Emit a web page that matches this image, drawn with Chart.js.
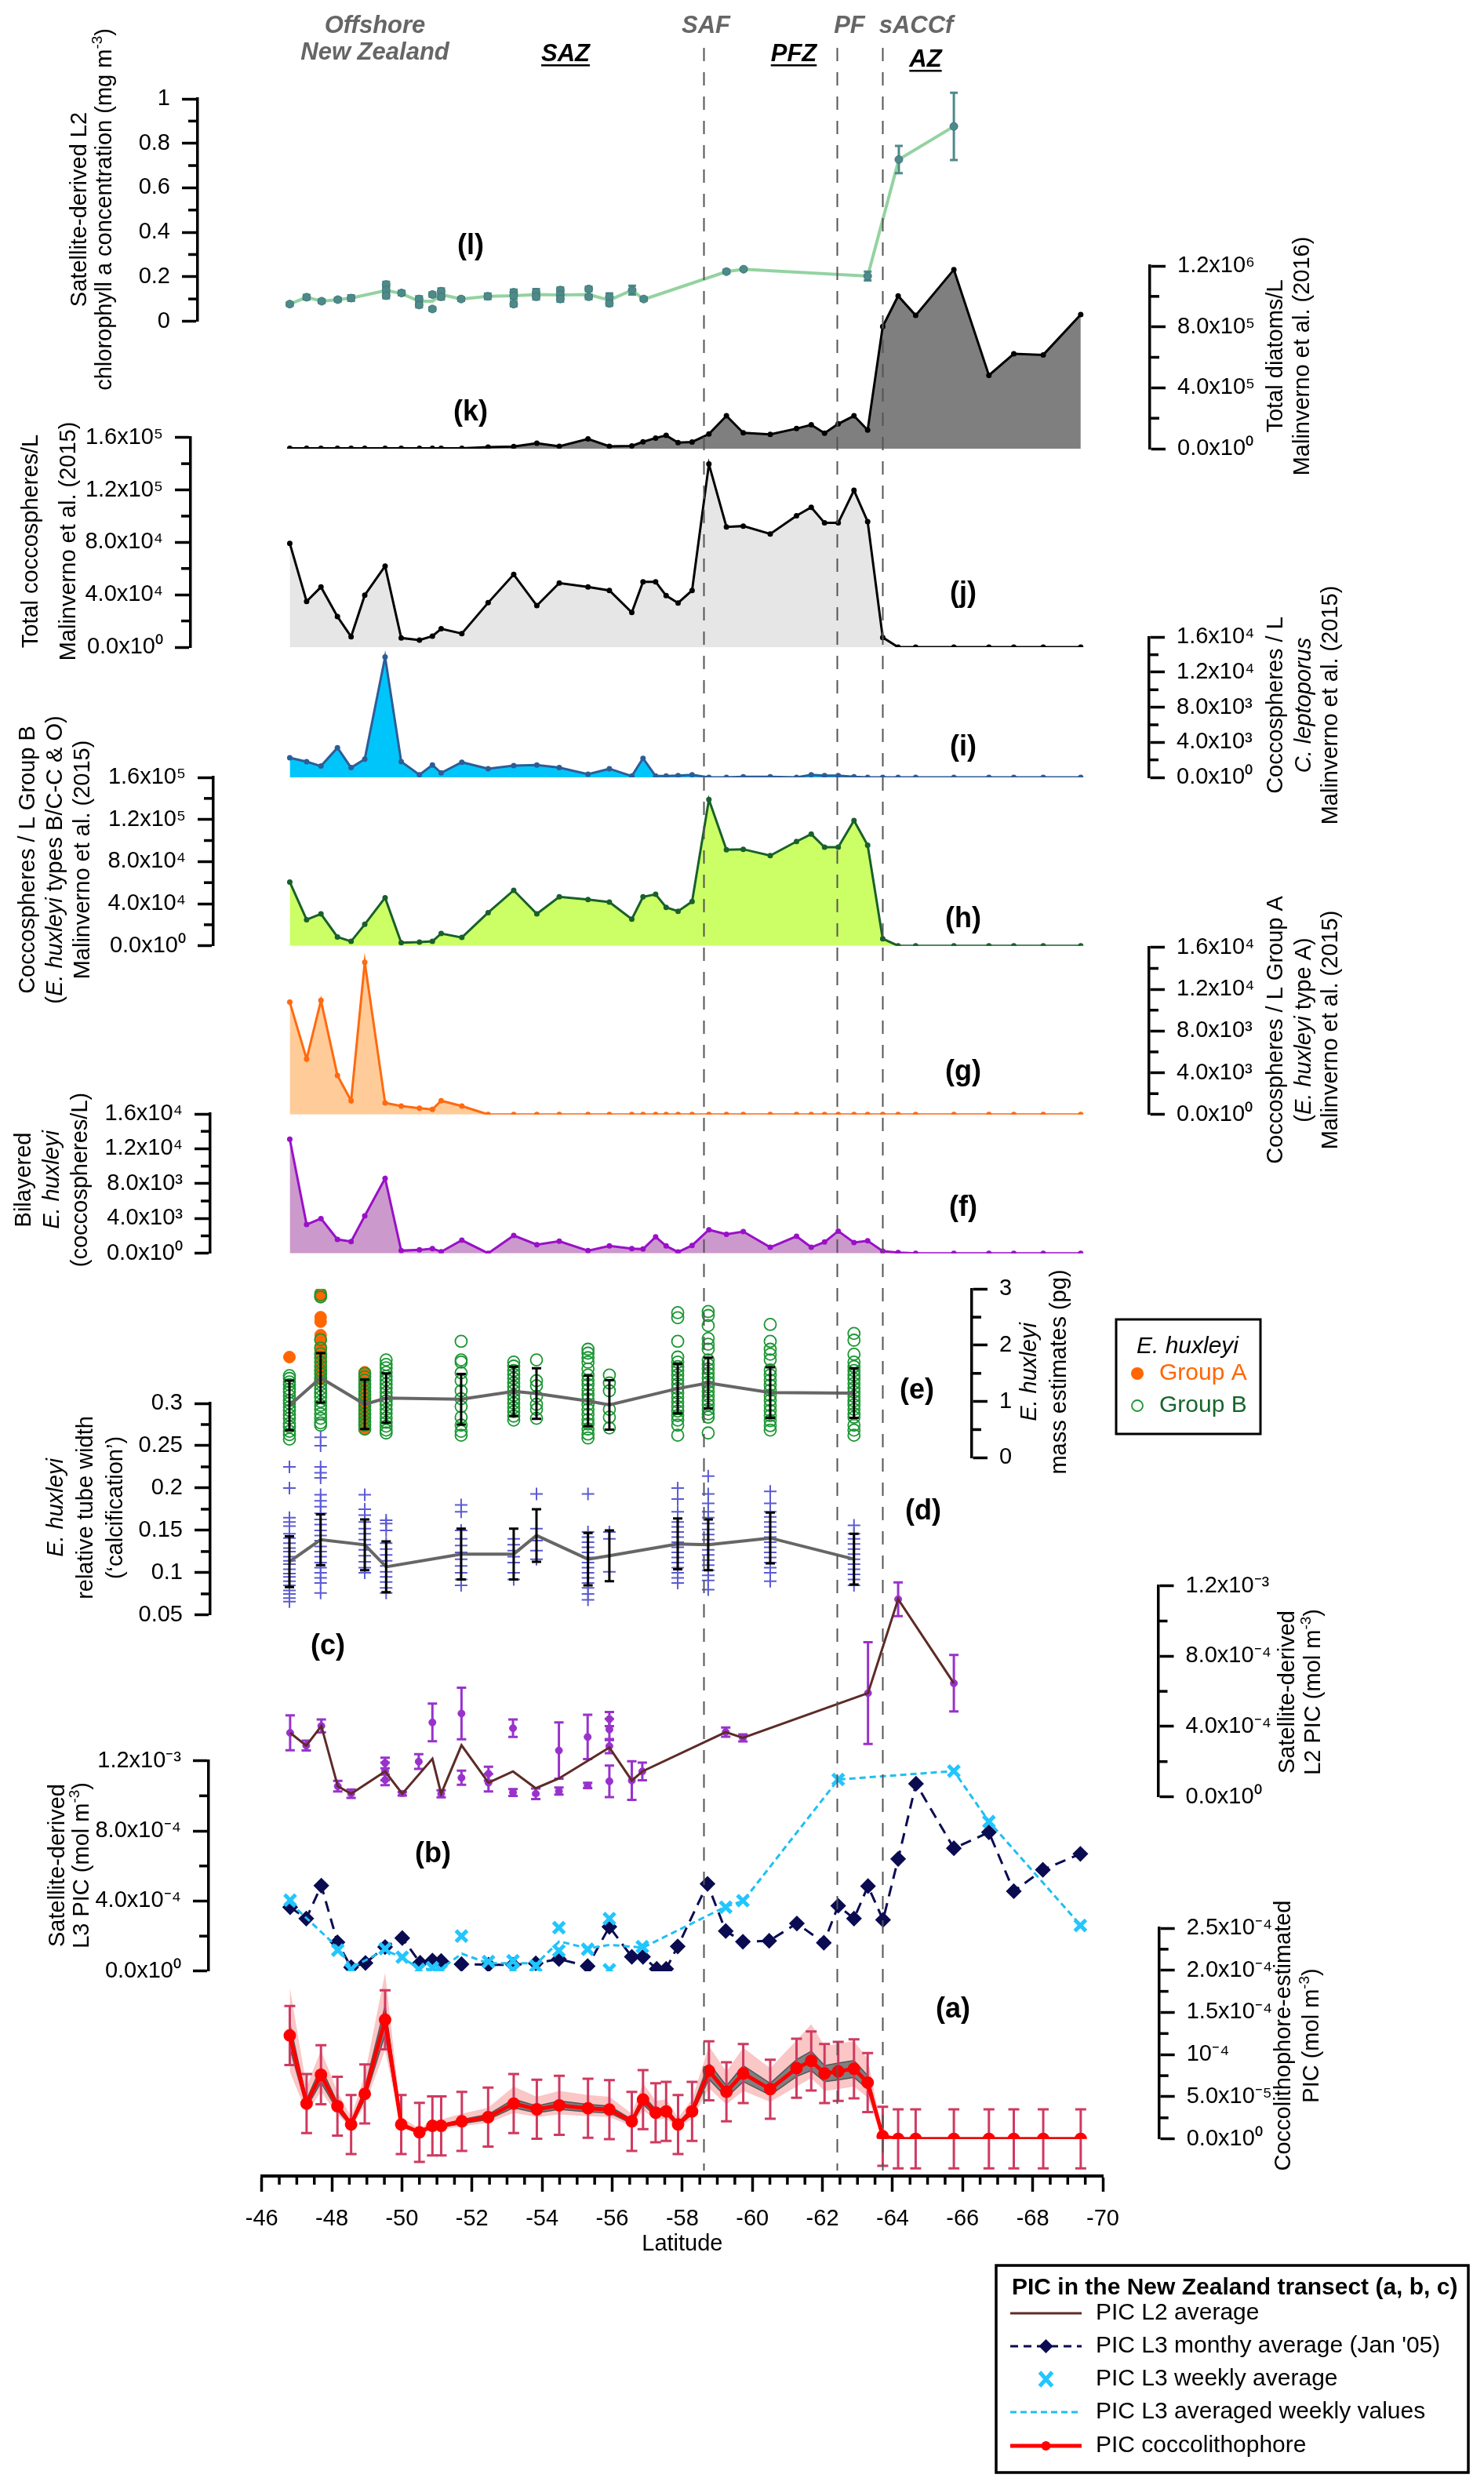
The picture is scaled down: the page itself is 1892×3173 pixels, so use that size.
<!DOCTYPE html>
<html>
<head>
<meta charset="utf-8">
<title>PIC along the New Zealand transect</title>
<script src="https://cdn.jsdelivr.net/npm/chart.js"></script>
<style>
  body { margin: 0; background: #fff; }
  canvas { display: block; }
</style>
</head>
<body>
<canvas id="fig" width="1892" height="3173"></canvas>
<script>
// ---------------- data ----------------

// sampling stations shared by panels (a) and (f)-(k)
const stationLat = [-46.80, -47.28, -47.69, -48.16, -48.55, -48.94, -49.52, -49.98, -50.50, -50.87,
  -51.12, -51.71, -52.46, -53.19, -53.85, -54.49, -55.31, -55.92, -56.56, -56.88,
  -57.24, -57.54, -57.88, -58.28, -58.76, -59.26, -59.74, -60.51, -61.26, -61.68,
  -62.06, -62.45, -62.90, -63.29, -63.72, -64.16, -64.66, -65.75, -66.75, -67.46,
  -68.30, -69.37];

// (k) total diatoms / L
const diatoms = [3000, 3000, 3000, 3000, 3000, 3000, 3000, 3000, 3000, 3000,
  3000, 3000, 10000, 14000, 36000, 16000, 64000, 16000, 18000, 45000,
  70000, 87000, 40000, 44000, 96000, 216000, 104000, 94000, 132000, 157000,
  102000, 163000, 216000, 122000, 802000, 1003000, 875000, 1176000, 482000, 623000,
  616000, 881000];
// (j) total coccospheres / L
const coccoTotal = [79200, 34900, 45900, 23300, 8000, 39700, 61800, 7000, 5400, 8400,
  14000, 10400, 33900, 55500, 31700, 48900, 45900, 43300, 26500, 49900,
  49900, 39300, 33700, 43300, 139700, 91800, 92400, 86400, 100300, 106700,
  94800, 94800, 119700, 95800, 7400, 0, 0, 0, 0, 0, 0, 0];
// (i) C. leptoporus coccospheres / L
const leptoporus = [2240, 1790, 1290, 3380, 1110, 2090, 13740, 1790, 300, 1410,
  510, 1730, 990, 1350, 1410, 1110, 360, 990, 150, 2180,
  150, 150, 210, 300, 0, 0, 60, 60, 0, 300,
  210, 210, 60, 0, 0, 0, 0, 0, 0, 0, 0, 0];
// (h) Group B coccospheres / L
const groupB = [60600, 24800, 30300, 8400, 4200, 20400, 45700, 3000, 3500, 4200,
  11700, 7900, 31500, 52700, 30300, 46500, 44000, 41500, 25300, 46500,
  48900, 36500, 32800, 42000, 138900, 91200, 91700, 85700, 99100, 106100,
  93600, 93600, 119000, 95600, 6700, 0, 0, 0, 0, 0, 0, 0];
// (g) Group A coccospheres / L
const groupA = [10760, 5320, 10930, 3750, 1320, 14590, 1110, 810, 610, 490,
  1320, 810, 0, 0, 0, 0, 0, 0, 0, 0,
  0, 0, 0, 0, 0, 0, 0, 0, 0, 0,
  0, 0, 0, 0, 0, 0, 0, 0, 0, 0, 0, 0];
// (f) bilayered E. huxleyi coccospheres / L
const bilayered = [13090, 3300, 3990, 1590, 1350, 4290, 8590, 300, 390, 540,
  180, 1500, 0, 2040, 990, 1380, 300, 840, 540, 480,
  1890, 840, 150, 900, 2700, 2190, 2490, 690, 1950, 690,
  1290, 2550, 1230, 1440, 240, 90, 0, 0, 0, 0, 0, 0];

// (a) coccolithophore-estimated PIC, in units of 1e-4 mol m-3
const picCocco = [1.227, 0.419, 0.761, 0.388, 0.171, 0.534, 1.413, 0.171, 0.078, 0.155,
  0.155, 0.208, 0.258, 0.419, 0.351, 0.398, 0.363, 0.348, 0.208, 0.466,
  0.311, 0.326, 0.171, 0.326, 0.807, 0.559, 0.776, 0.590, 0.839, 0.925,
  0.776, 0.801, 0.832, 0.668, 0.031, 0, 0, 0, 0, 0, 0, 0];
const picBandHi = [1.80, 0.62, 1.05, 0.56, 0.26, 0.76, 1.97, 0.26, 0.12, 0.22,
  0.23, 0.30, 0.37, 0.62, 0.50, 0.57, 0.52, 0.50, 0.30, 0.66,
  0.45, 0.47, 0.25, 0.47, 1.10, 0.80, 1.08, 0.84, 1.17, 1.36,
  1.10, 1.13, 1.16, 0.95, 0.05, 0, 0, 0, 0, 0, 0, 0];
const picBandLo = [0.80, 0.31, 0.56, 0.29, 0.13, 0.40, 1.05, 0.13, 0.06, 0.11,
  0.11, 0.15, 0.19, 0.31, 0.26, 0.29, 0.27, 0.26, 0.15, 0.34,
  0.23, 0.24, 0.13, 0.24, 0.60, 0.41, 0.57, 0.44, 0.62, 0.72,
  0.57, 0.59, 0.62, 0.49, 0.02, 0, 0, 0, 0, 0, 0, 0];
const picCoreHi = [1.37, 0.47, 0.85, 0.43, 0.19, 0.60, 1.58, 0.19, 0.09, 0.17,
  0.17, 0.23, 0.29, 0.47, 0.39, 0.45, 0.41, 0.39, 0.23, 0.52,
  0.35, 0.37, 0.19, 0.37, 0.90, 0.63, 0.87, 0.66, 0.94, 1.04,
  0.87, 0.90, 0.93, 0.75, 0.035, 0, 0, 0, 0, 0, 0, 0];
const picCoreLo = [1.08, 0.37, 0.67, 0.34, 0.15, 0.47, 1.24, 0.15, 0.07, 0.14,
  0.14, 0.18, 0.23, 0.37, 0.31, 0.35, 0.32, 0.31, 0.18, 0.41,
  0.27, 0.29, 0.15, 0.29, 0.71, 0.49, 0.68, 0.52, 0.74, 0.81,
  0.68, 0.70, 0.73, 0.59, 0.027, 0, 0, 0, 0, 0, 0, 0];
const picCoccoErr = 0.35;

// (l) satellite chlorophyll a (mg m-3): mean line and individual values
const chlLat = [-46.80, -47.28, -47.71, -48.17, -48.55, -49.55, -49.99, -50.49, -50.87, -51.12,
  -51.69, -52.45, -53.19, -53.83, -54.52, -55.33, -55.92, -56.57, -56.90, -59.26,
  -59.75, -63.29, -64.18, -65.75];
const chlMean = [0.077, 0.108, 0.090, 0.097, 0.104, 0.138, 0.125, 0.090, 0.090, 0.120,
  0.100, 0.112, 0.115, 0.120, 0.118, 0.120, 0.095, 0.140, 0.098, 0.223,
  0.234, 0.203, 0.727, 0.876];
const chlPtLat = [-46.80, -47.28, -47.71, -48.17, -48.55, -49.55, -49.55, -49.55, -49.99, -50.49,
  -50.49, -50.87, -50.87, -51.12, -51.12, -51.69, -52.45, -53.19, -53.19, -53.19,
  -53.83, -53.83, -54.52, -54.52, -54.52, -55.33, -55.33, -55.92, -55.92, -56.57,
  -56.90, -59.26, -59.75, -63.29, -64.18, -65.75];
const chlPtVal = [0.077, 0.108, 0.090, 0.097, 0.104, 0.165, 0.140, 0.115, 0.127, 0.100,
  0.073, 0.120, 0.055, 0.135, 0.110, 0.100, 0.112, 0.130, 0.115, 0.077,
  0.130, 0.110, 0.140, 0.120, 0.100, 0.145, 0.110, 0.110, 0.080, 0.140,
  0.100, 0.223, 0.234, 0.203, 0.727, 0.876];
const chlPtErr = [0.008, 0.010, 0.008, 0.008, 0.012, 0.012, 0.015, 0.012, 0.010, 0.012,
  0.010, 0.010, 0.008, 0.012, 0.012, 0.008, 0.012, 0.012, 0.015, 0.010,
  0.015, 0.012, 0.012, 0.015, 0.012, 0.010, 0.010, 0.015, 0.010, 0.020,
  0.008, 0.008, 0.006, 0.020, 0.061, 0.151];

// (e) E. huxleyi mass (pg) and (d) relative tube width, per sampled station
const morphoLat = [-46.79, -47.68, -48.94, -49.55, -51.69, -53.19, -53.84, -55.31, -55.92, -57.87,
  -58.74, -60.51, -62.90];
const massGroupA = [
  [1.79],
  [2.93, 2.87, 2.50, 2.42, 2.18, 2.10, 1.98, 1.90, 1.82, 1.70, 1.55, 1.40],
  [1.52, 1.46, 1.40, 1.33, 1.20, 1.10, 1.00, 0.90, 0.80, 0.70, 0.60, 0.52],
  [], [], [], [], [], [], [], [], [], []];
const massGroupB = [
  [1.46, 1.41, 1.35, 1.30, 1.22, 1.17, 1.10, 1.02, 0.97, 0.90, 0.84, 0.76, 0.70, 0.61, 0.55, 0.47, 0.41, 0.33],
  [2.90, 2.86, 2.10, 1.95, 1.85, 1.78, 1.70, 1.62, 1.55, 1.49, 1.42, 1.36, 1.30, 1.22, 1.15, 1.08, 1.00, 0.93, 0.86, 0.78, 0.70, 0.62, 0.58],
  [1.50, 1.44, 1.38, 1.31, 1.25, 1.18, 1.12, 1.05, 0.98, 0.92, 0.85, 0.78, 0.71, 0.64, 0.58, 0.51],
  [1.74, 1.66, 1.60, 1.52, 1.45, 1.38, 1.31, 1.24, 1.16, 1.08, 1.01, 0.94, 0.86, 0.79, 0.71, 0.63, 0.56, 0.49, 0.44],
  [2.07, 1.74, 1.70, 1.51, 1.37, 1.19, 1.05, 0.91, 0.72, 0.58, 0.47, 0.40],
  [1.70, 1.63, 1.55, 1.48, 1.41, 1.33, 1.26, 1.19, 1.11, 1.04, 0.97, 0.89, 0.82, 0.74, 0.67],
  [1.74, 1.37, 1.28, 1.09, 0.95, 0.86, 0.70],
  [1.93, 1.86, 1.78, 1.70, 1.58, 1.47, 1.38, 1.30, 1.21, 1.12, 1.04, 0.95, 0.86, 0.77, 0.68, 0.60, 0.51, 0.42, 0.35],
  [1.47, 1.33, 1.19, 0.86, 0.72, 0.53],
  [2.58, 2.49, 2.07, 1.79, 1.70, 1.62, 1.55, 1.47, 1.39, 1.31, 1.23, 1.15, 1.07, 0.99, 0.91, 0.83, 0.75, 0.67, 0.58, 0.40],
  [2.60, 2.53, 2.35, 2.12, 2.02, 1.93, 1.74, 1.66, 1.58, 1.50, 1.42, 1.34, 1.26, 1.18, 1.10, 1.02, 0.94, 0.86, 0.78, 0.72, 0.44],
  [2.37, 2.07, 1.93, 1.84, 1.74, 1.56, 1.47, 1.38, 1.29, 1.20, 1.11, 1.02, 0.93, 0.84, 0.75, 0.66, 0.57, 0.49],
  [2.21, 2.09, 1.84, 1.70, 1.62, 1.55, 1.47, 1.40, 1.32, 1.24, 1.17, 1.09, 1.01, 0.94, 0.86, 0.78, 0.72, 0.58, 0.49, 0.40]];
const massMean = [0.93, 1.42, 0.95, 1.06, 1.04, 1.18, 1.14, 1.01, 0.94, 1.23, 1.33, 1.16, 1.15];
const massErr = [0.44, 0.44, 0.44, 0.44, 0.45, 0.44, 0.45, 0.45, 0.44, 0.44, 0.45, 0.45, 0.44];
const tubeWidth = [
  [0.225, 0.200, 0.165, 0.160, 0.155, 0.146, 0.141, 0.135, 0.129, 0.125, 0.119, 0.114, 0.110, 0.104, 0.099, 0.095, 0.090, 0.085, 0.079, 0.075, 0.070, 0.066],
  [0.260, 0.250, 0.225, 0.218, 0.212, 0.192, 0.185, 0.178, 0.170, 0.163, 0.157, 0.150, 0.144, 0.138, 0.131, 0.125, 0.119, 0.112, 0.106, 0.100, 0.094, 0.088, 0.076],
  [0.192, 0.175, 0.168, 0.160, 0.152, 0.146, 0.139, 0.133, 0.127, 0.120, 0.113, 0.106, 0.100],
  [0.162, 0.158, 0.150, 0.135, 0.128, 0.121, 0.114, 0.108, 0.101, 0.095, 0.089, 0.082, 0.076],
  [0.180, 0.172, 0.150, 0.140, 0.132, 0.124, 0.116, 0.108, 0.100, 0.092, 0.085],
  [0.140, 0.133, 0.126, 0.119, 0.112, 0.100, 0.092],
  [0.193, 0.152, 0.138, 0.126, 0.116],
  [0.193, 0.148, 0.142, 0.136, 0.130, 0.124, 0.118, 0.112, 0.106, 0.100, 0.094, 0.088, 0.082, 0.075, 0.068],
  [0.148, 0.140, 0.101],
  [0.200, 0.187, 0.172, 0.160, 0.154, 0.148, 0.142, 0.136, 0.130, 0.124, 0.118, 0.112, 0.106, 0.100, 0.094, 0.088],
  [0.214, 0.193, 0.182, 0.172, 0.165, 0.158, 0.151, 0.145, 0.139, 0.133, 0.127, 0.121, 0.115, 0.109, 0.103, 0.097, 0.091, 0.080],
  [0.196, 0.182, 0.172, 0.166, 0.160, 0.154, 0.148, 0.142, 0.136, 0.130, 0.124, 0.118, 0.112, 0.106, 0.100, 0.090],
  [0.156, 0.146, 0.140, 0.134, 0.128, 0.122, 0.116, 0.110, 0.104, 0.098, 0.092, 0.085]];
const tubeMean = [0.113, 0.139, 0.133, 0.107, 0.122, 0.122, 0.144, 0.116, 0.120, 0.134, 0.133, 0.141, 0.116];
const tubeErr = [0.030, 0.030, 0.030, 0.030, 0.030, 0.030, 0.031, 0.031, 0.030, 0.030, 0.030, 0.030, 0.030];

// (c) satellite L2 PIC, units of 1e-3 mol m-3
const l2Lat = [-46.81, -47.27, -47.70, -48.17, -48.55, -49.52, -50.01, -50.87, -51.12, -51.70,
  -52.47, -53.17, -53.82, -54.48, -55.30, -55.92, -56.56, -56.86, -59.24, -59.73,
  -63.30, -64.16, -65.75];
const l2Mean = [0.364, 0.291, 0.403, 0.060, 0.017, 0.144, 0.017, 0.216, 0.017, 0.293,
  0.080, 0.144, 0.048, 0.104, 0.204, 0.280, 0.092, 0.144, 0.368, 0.335,
  0.590, 1.124, 0.646];
const l2PtLat = [-46.81, -47.27, -47.70, -48.17, -48.55, -49.52, -49.52, -49.52, -50.01, -50.48,
  -50.87, -51.12, -51.70, -51.70, -52.47, -52.47, -53.17, -53.17, -53.82, -54.48,
  -54.48, -55.30, -55.30, -55.92, -55.92, -55.92, -55.92, -56.56, -56.86, -59.24,
  -59.73, -63.30, -64.16, -65.75];
const l2PtVal = [0.364, 0.291, 0.403, 0.060, 0.017, 0.192, 0.144, 0.096, 0.017, 0.200,
  0.423, 0.017, 0.474, 0.108, 0.131, 0.080, 0.390, 0.024, 0.017, 0.263,
  0.032, 0.340, 0.064, 0.442, 0.383, 0.288, 0.088, 0.092, 0.144, 0.368,
  0.335, 0.590, 1.124, 0.646];
const l2PtErr = [0.099, 0.028, 0.037, 0.030, 0.024, 0.030, 0.050, 0.030, 0.010, 0.042,
  0.107, 0.020, 0.147, 0.040, 0.040, 0.050, 0.050, 0.020, 0.030, 0.160,
  0.020, 0.126, 0.015, 0.040, 0.060, 0.040, 0.090, 0.110, 0.050, 0.026,
  0.020, 0.290, 0.096, 0.161];

// (b) satellite L3 PIC, units of 1e-4 mol m-3
const l3MonthLat = [-46.81, -47.27, -47.70, -48.16, -48.55, -48.96, -49.52, -50.01, -50.52, -50.87,
  -51.12, -51.70, -52.47, -53.17, -53.82, -54.48, -55.30, -55.92, -56.56, -56.88,
  -57.27, -57.54, -57.87, -58.72, -59.24, -59.73, -60.48, -61.27, -62.04, -62.45,
  -62.90, -63.30, -63.73, -64.16, -64.67, -65.75, -66.75, -67.46, -68.29, -69.36];
const l3Month = [3.65, 3.00, 4.88, 1.65, 0.22, 0.47, 1.38, 1.89, 0.48, 0.61,
  0.58, 0.40, 0.37, 0.37, 0.45, 0.69, 0.29, 2.53, 0.82, 0.82,
  0.13, 0.13, 1.41, 4.98, 2.29, 1.68, 1.73, 2.72, 1.62, 3.73,
  3.00, 4.85, 2.93, 6.40, 10.69, 7.01, 7.92, 4.56, 5.78, 6.69];
const l3WeekLat = [-46.81, -48.17, -48.55, -49.52, -50.01, -50.48, -50.87, -51.12, -51.70, -52.47,
  -53.17, -53.17, -53.82, -54.48, -54.48, -55.30, -55.92, -55.92, -56.86, -59.24,
  -59.73, -62.45, -65.75, -66.75, -69.36];
const l3Week = [4.05, 1.20, 0.10, 1.28, 0.80, 0.10, 0.20, 0.05, 2.00, 0.55,
  0.60, 0.08, 0.30, 2.48, 1.17, 1.25, 3.00, 0.08, 1.40, 3.65,
  4.02, 10.93, 11.41, 8.53, 2.61];
const l3AvgLat = [-46.81, -48.17, -48.55, -49.52, -49.98, -50.50, -50.87, -51.12, -51.71, -52.46,
  -53.19, -53.85, -54.49, -55.31, -55.92, -56.88, -59.26, -59.74, -62.45, -65.75,
  -66.75, -69.37];
const l3Avg = [3.90, 1.35, 0.20, 1.20, 0.80, 0.15, 0.10, 0.15, 1.00, 0.45,
  0.45, 0.45, 1.70, 1.30, 1.50, 1.35, 3.70, 4.00, 10.93, 11.41,
  8.53, 2.61];

// fronts (dashed lines)
const frontLat = [-58.60, -62.42, -63.70];

// ticks and tick labels
const latTicks = [-70, -68, -66, -64, -62, -60, -58, -56, -54, -52, -50, -48, -46];
const chlTicks = [0, 0.2, 0.4, 0.6, 0.8, 1];
const chlLabels = ['0', '0.2', '0.4', '0.6', '0.8', '1'];
const diatTicks = [0, 4e5, 8e5, 1.2e6];
const diatLabels = ['0.0x10⁰', '4.0x10⁵', '8.0x10⁵', '1.2x10⁶'];
const cocco5Ticks = [0, 4e4, 8e4, 1.2e5, 1.6e5];
const cocco5Labels = ['0.0x10⁰', '4.0x10⁴', '8.0x10⁴', '1.2x10⁵', '1.6x10⁵'];
const cocco4Ticks = [0, 4e3, 8e3, 1.2e4, 1.6e4];
const cocco4Labels = ['0.0x10⁰', '4.0x10³', '8.0x10³', '1.2x10⁴', '1.6x10⁴'];
const massTicks = [0, 1, 2, 3];
const massLabels = ['0', '1', '2', '3'];
const tubeTicks = [0.05, 0.1, 0.15, 0.2, 0.25, 0.3];
const tubeLabels = ['0.05', '0.1', '0.15', '0.2', '0.25', '0.3'];
const l2Ticks = [0, 0.4, 0.8, 1.2];                  // x1e-3
const l3Ticks = [0, 4, 8, 12];                       // x1e-4
const satLabels = ['0.0x10⁰', '4.0x10⁻⁴', '8.0x10⁻⁴', '1.2x10⁻³'];
const cocTicks = [0, 0.5, 1, 1.5, 2, 2.5];           // x1e-4
const cocLabels = ['0.0x10⁰', '5.0x10⁻⁵', '10⁻⁴', '1.5x10⁻⁴', '2.0x10⁻⁴', '2.5x10⁻⁴'];

// ---------------- layout ----------------
const FONT = '"Liberation Sans", Arial, Helvetica, sans-serif';
const PLOT_L = 333.7, PLOT_R = 1406, PLOT_B = 2774, X_AXIS_H = 104;

// one y axis per panel: where it sits and which pixel band it spans
const panels = [
  {id: 'yChl',  side: 'left',  axisX: 252,    top: 126,    bottom: 409.5,  min: 0,    max: 1,     ticks: chlTicks,    labels: chlLabels,    minor: 0.1},
  {id: 'yDiat', side: 'right', axisX: 1466,   top: 339,    bottom: 572,    min: 0,    max: 1.2e6, ticks: diatTicks,   labels: diatLabels,   minor: 2e5},
  {id: 'yTot',  side: 'left',  axisX: 243,    top: 557.7,  bottom: 825,    min: 0,    max: 1.6e5, ticks: cocco5Ticks, labels: cocco5Labels, minor: 2e4},
  {id: 'yLep',  side: 'right', axisX: 1465,   top: 812.3,  bottom: 991,    min: 0,    max: 1.6e4, ticks: cocco4Ticks, labels: cocco4Labels, minor: 2e3},
  {id: 'yGrpB', side: 'left',  axisX: 272,    top: 991,    bottom: 1205.7, min: 0,    max: 1.6e5, ticks: cocco5Ticks, labels: cocco5Labels, minor: 2e4},
  {id: 'yGrpA', side: 'right', axisX: 1465,   top: 1207.9, bottom: 1420.8, min: 0,    max: 1.6e4, ticks: cocco4Ticks, labels: cocco4Labels, minor: 2e3},
  {id: 'yBil',  side: 'left',  axisX: 268,    top: 1420,   bottom: 1597.7, min: 0,    max: 1.6e4, ticks: cocco4Ticks, labels: cocco4Labels, minor: 2e3},
  {id: 'yMass', side: 'right', axisX: 1239,   top: 1643.3, bottom: 1858.3, min: 0,    max: 3,     ticks: massTicks,   labels: massLabels,   minor: 0.5},
  {id: 'yTube', side: 'left',  axisX: 268,    top: 1789,   bottom: 2058.9, min: 0.05, max: 0.3,   ticks: tubeTicks,   labels: tubeLabels,   minor: 0.025},
  {id: 'yL2',   side: 'right', axisX: 1476.5, top: 2021.7, bottom: 2290.5, min: 0,    max: 1.2,   ticks: l2Ticks,     labels: satLabels,    minor: 0.2},
  {id: 'yL3',   side: 'left',  axisX: 266,    top: 2244.6, bottom: 2512.9, min: 0,    max: 12,    ticks: l3Ticks,     labels: satLabels,    minor: 2},
  {id: 'yCoc',  side: 'right', axisX: 1477.7, top: 2458,   bottom: 2726.7, min: 0,    max: 2.5,   ticks: cocTicks,    labels: cocLabels,    minor: 0.25},
];

const axisTitles = [
  {x: 102, y: 267, parts: [['Satellite-derived L2']]},
  {x: 134, y: 267, parts: [['chlorophyll a concentration (mg m'], ['-3', 's'], [')']]},
  {x: 1627, y: 454, parts: [['Total diatoms/L']]},
  {x: 1661, y: 454, parts: [['Malinverno et al. (2016)']]},
  {x: 40, y: 690, parts: [['Total coccospheres/L']]},
  {x: 88, y: 690, parts: [['Malinverno et al. (2015)']]},
  {x: 1627, y: 899, parts: [['Coccospheres / L']]},
  {x: 1663, y: 899, parts: [['C. leptoporus', 'i']]},
  {x: 1697, y: 899, parts: [['Malinverno et al. (2015)']]},
  {x: 36, y: 1096, parts: [['Coccospheres / L Group B']]},
  {x: 71, y: 1096, parts: [['('], ['E. huxleyi', 'i'], [' types B/C-C & O)']]},
  {x: 106, y: 1096, parts: [['Malinverno et al. (2015)']]},
  {x: 1627, y: 1313, parts: [['Coccospheres / L Group A']]},
  {x: 1663, y: 1313, parts: [['('], ['E. huxleyi', 'i'], [' type A)']]},
  {x: 1697, y: 1313, parts: [['Malinverno et al. (2015)']]},
  {x: 31, y: 1504, parts: [['Bilayered']]},
  {x: 67, y: 1504, parts: [['E. huxleyi', 'i']]},
  {x: 103, y: 1504, parts: [['(coccospheres/L)']]},
  {x: 1313, y: 1749, parts: [['E. huxleyi', 'i']]},
  {x: 1351, y: 1749, parts: [['mass estimates (pg)']]},
  {x: 72, y: 1922, parts: [['E. huxleyi', 'i']]},
  {x: 110, y: 1922, parts: [['relative tube width']]},
  {x: 148, y: 1922, parts: [['(‘calcification’)']]},
  {x: 1642, y: 2157, parts: [['Satellite-derived']]},
  {x: 1675, y: 2157, parts: [['L2 PIC (mol m'], ['-3', 's'], [')']]},
  {x: 74, y: 2378, parts: [['Satellite-derived']]},
  {x: 105, y: 2378, parts: [['L3 PIC (mol m'], ['-3', 's'], [')']]},
  {x: 1637, y: 2595, parts: [['Coccolithophore-estimated']]},
  {x: 1673, y: 2595, parts: [['PIC (mol m'], ['-3', 's'], [')']]},
];

const panelLabels = [['(l)', 600, 314], ['(k)', 600, 526], ['(j)', 1228, 757], ['(i)', 1228, 953],
  ['(h)', 1228, 1172], ['(g)', 1228, 1367], ['(f)', 1228, 1540], ['(e)', 1169, 1773],
  ['(d)', 1177, 1927], ['(c)', 418, 2099], ['(b)', 552, 2364], ['(a)', 1215, 2562]];

const zoneLabels = [
  {t: 'Offshore', x: 478, y: 33, grey: true}, {t: 'New Zealand', x: 478, y: 67, grey: true},
  {t: 'SAZ', x: 721, y: 69, under: true}, {t: 'SAF', x: 900, y: 33, grey: true},
  {t: 'PFZ', x: 1012, y: 69, under: true}, {t: 'PF', x: 1083, y: 33, grey: true},
  {t: 'sACCf', x: 1168, y: 33, grey: true}, {t: 'AZ', x: 1180, y: 76, under: true},
];

// ---------------- helpers ----------------
const pts = (xs, ys) => xs.map((x, i) => ({x, y: ys[i]}));
const spread = (xs, lists) => xs.flatMap((x, i) => lists[i].map(y => ({x, y})));

function fontOf(style, size) {
  return (style.includes('i') ? 'italic ' : '') + (style.includes('b') ? 'bold ' : '') + size + 'px ' + FONT;
}

// text made of plain / italic / bold / superscript runs
function drawRich(ctx, parts, x, y, opt) {
  const size = opt.size || 29;
  ctx.save();
  ctx.translate(x, y);
  if (opt.rot) ctx.rotate(opt.rot);
  ctx.textBaseline = 'middle';
  ctx.textAlign = 'left';
  ctx.fillStyle = opt.color || '#000';
  const runs = parts.map(([t, st = '']) => {
    const sup = st.includes('s');
    const sz = sup ? size * 0.65 : size;
    ctx.font = fontOf(st, sz);
    return {t, st, sz, sup, w: ctx.measureText(t).width};
  });
  const total = runs.reduce((a, r) => a + r.w, 0);
  let cx = opt.align === 'left' ? 0 : -total / 2;
  const x0 = cx;
  runs.forEach(r => {
    ctx.font = fontOf(r.st, r.sz);
    ctx.fillText(r.t, cx, r.sup ? -size * 0.33 : 0);
    cx += r.w;
  });
  if (opt.under) {
    ctx.fillRect(x0, size * 0.42, total, 2.5);
  }
  ctx.restore();
}

// ---------------- datasets ----------------
const datasets = [];
function add(ds) { datasets.push(Object.assign({xAxisID: 'x'}, ds)); }
const NONE = 'rgba(0,0,0,0)';

function areaSeries(axis, values, line, fillColor) {
  add({yAxisID: axis, data: pts(stationLat, values), borderColor: line, borderWidth: 3,
    pointRadius: 3.5, pointBackgroundColor: line, pointBorderColor: line, pointBorderWidth: 0,
    fill: 'origin', backgroundColor: fillColor});
}

areaSeries('yDiat', diatoms, '#000000', '#7f7f7f');
add({yAxisID: 'yChl', data: pts(chlLat, chlMean), borderColor: '#93d3a0', borderWidth: 4, pointRadius: 0});
add({yAxisID: 'yChl', data: pts(chlPtLat, chlPtVal), showLine: false, pointRadius: 5,
  pointBackgroundColor: '#4f8a8a', pointBorderColor: '#3f7676', pointBorderWidth: 1,
  err: chlPtErr, errColor: '#4f8a8a', errCap: 5});
areaSeries('yTot', coccoTotal, '#000000', '#e6e6e6');
areaSeries('yLep', leptoporus, '#2d5d97', '#00c5fb');
areaSeries('yGrpB', groupB, '#19602b', '#ccff66');
areaSeries('yGrpA', groupA, '#ff6a10', '#ffcc99');
areaSeries('yBil', bilayered, '#9a10c8', '#cc99cc');

add({yAxisID: 'yMass', data: spread(morphoLat, massGroupA), showLine: false, pointRadius: 7.5,
  pointBackgroundColor: '#ff6600', pointBorderColor: '#ff6600', pointBorderWidth: 1});
add({yAxisID: 'yMass', data: spread(morphoLat, massGroupB), showLine: false, pointRadius: 7.5,
  pointBackgroundColor: NONE, pointBorderColor: '#1a9632', pointBorderWidth: 1.8});
add({yAxisID: 'yMass', data: pts(morphoLat, massMean), borderColor: '#666666', borderWidth: 4, pointRadius: 0,
  err: massErr, errColor: '#000', errOnTop: true, errCap: 6});

add({yAxisID: 'yTube', data: spread(morphoLat, tubeWidth), showLine: false, pointStyle: 'cross',
  pointRadius: 8, pointBorderWidth: 2, pointBorderColor: '#5b5bd3'});
add({yAxisID: 'yTube', data: pts(morphoLat, tubeMean), borderColor: '#666666', borderWidth: 4, pointRadius: 0,
  err: tubeErr, errColor: '#000', errOnTop: true, errCap: 6});

add({yAxisID: 'yL2', data: pts(l2PtLat, l2PtVal), showLine: false, pointRadius: 4.5,
  pointBackgroundColor: '#9932cc', pointBorderColor: '#9932cc',
  err: l2PtErr, errColor: '#9932cc', errCap: 6});
add({yAxisID: 'yL2', data: pts(l2Lat, l2Mean), borderColor: '#5e2b27', borderWidth: 3, pointRadius: 0});

add({yAxisID: 'yL3', data: pts(l3MonthLat, l3Month), borderColor: '#0b0b52', borderWidth: 3, borderDash: [14, 9],
  pointStyle: 'rectRot', pointRadius: 8, pointBackgroundColor: '#0b0b52', pointBorderColor: '#0b0b52'});
add({yAxisID: 'yL3', data: pts(l3AvgLat, l3Avg), borderColor: '#20bff0', borderWidth: 3, borderDash: [8, 5], pointRadius: 0});
add({yAxisID: 'yL3', data: pts(l3WeekLat, l3Week), showLine: false, pointStyle: 'crossRot',
  pointRadius: 10, pointBorderWidth: 5, pointBorderColor: '#22c6ff'});

add({yAxisID: 'yCoc', data: pts(stationLat, picBandHi), borderColor: NONE, pointRadius: 0,
  fill: '+1', backgroundColor: 'rgba(246,160,160,0.6)'});
add({yAxisID: 'yCoc', data: pts(stationLat, picBandLo), borderColor: NONE, pointRadius: 0});
add({yAxisID: 'yCoc', data: pts(stationLat, picCoreHi), borderColor: '#555', borderWidth: 1.5, pointRadius: 0,
  fill: '+1', backgroundColor: '#808080'});
add({yAxisID: 'yCoc', data: pts(stationLat, picCoreLo), borderColor: '#555', borderWidth: 1.5, pointRadius: 0});
add({yAxisID: 'yCoc', data: pts(stationLat, picCocco), borderColor: '#ff0000', borderWidth: 5,
  pointRadius: 5.5, pointBackgroundColor: '#ff0000', pointBorderColor: '#ff0000',
  err: picCoccoErr, errColor: '#cf3a60', errCap: 7});

// later datasets are drawn on top
datasets.forEach((d, i) => { d.order = -i; });

// ---------------- scales ----------------
const scales = {
  x: {
    type: 'linear', position: 'bottom', min: -70, max: -46, reverse: true,
    afterBuildTicks: s => { s.ticks = latTicks.map(v => ({value: v})); },
    afterFit: s => { s.height = X_AXIS_H; },
    ticks: {font: {size: 29}, color: '#000', padding: 18, autoSkip: false, maxRotation: 0, callback: v => String(v)},
    grid: {drawOnChartArea: false, tickLength: 20, tickWidth: 3.5, tickColor: '#000'},
    border: {color: '#000', width: 4},
    title: {display: true, text: 'Latitude', font: {size: 29}, color: '#000', padding: {top: 0, bottom: 0}},
  },
};
panels.forEach(p => {
  scales[p.id] = {
    type: 'linear', position: p.side, min: p.min, max: p.max,
    afterBuildTicks: s => { s.ticks = p.ticks.map(v => ({value: v})); },
    afterFit: s => { s.width = 0; },
    ticks: {font: {size: 29}, color: '#000', padding: 15, autoSkip: false, callback: (v, i) => p.labels[i]},
    grid: {drawOnChartArea: false, tickLength: 20, tickWidth: 3.5, tickColor: '#000'},
    border: {color: '#000', width: 3.5},
  };
});

// ---------------- plugins ----------------
// move each panel's y axis to its own spot and pixel band
const placeAxes = {
  id: 'placeAxes',
  afterLayout(chart) {
    panels.forEach(p => {
      const s = chart.scales[p.id];
      if (p.side === 'left') { s.left = p.axisX - 320; s.right = p.axisX; }
      else { s.left = p.axisX; s.right = p.axisX + 320; }
      s.top = p.top; s.bottom = p.bottom;
      s.width = s.right - s.left; s.height = s.bottom - s.top;
      s.configure();
    });
  }
};

function drawErrors(chart, args, onTop) {
  const ds = chart.data.datasets[args.index];
  if (ds.err === undefined || !!ds.errOnTop !== onTop) return;
  const ys = chart.scales[ds.yAxisID];
  const ctx = chart.ctx;
  const cap = ds.errCap || 6;
  ctx.save();
  ctx.strokeStyle = ds.errColor;
  ctx.lineWidth = 3;
  args.meta.data.forEach((el, i) => {
    const e = Array.isArray(ds.err) ? ds.err[i] : ds.err;
    const v = ds.data[i].y;
    const t = ys.getPixelForValue(v + e), b = ys.getPixelForValue(v - e);
    ctx.beginPath();
    ctx.moveTo(el.x, t); ctx.lineTo(el.x, b);
    ctx.moveTo(el.x - cap, t); ctx.lineTo(el.x + cap, t);
    ctx.moveTo(el.x - cap, b); ctx.lineTo(el.x + cap, b);
    ctx.stroke();
  });
  ctx.restore();
}
const errorBars = {
  id: 'errorBars',
  beforeDatasetDraw(chart, args) { drawErrors(chart, args, false); },
  afterDatasetDraw(chart, args) { drawErrors(chart, args, true); },
};

const fronts = {
  id: 'fronts',
  afterDatasetsDraw(chart) {
    const ctx = chart.ctx, xs = chart.scales.x;
    ctx.save();
    ctx.strokeStyle = '#555';
    ctx.lineWidth = 2;
    ctx.setLineDash([17, 14]);
    frontLat.forEach(lat => {
      const px = Math.round(xs.getPixelForValue(lat)) + 0.5;
      ctx.beginPath(); ctx.moveTo(px, 61); ctx.lineTo(px, PLOT_B - 7); ctx.stroke();
    });
    ctx.restore();
  }
};

function minorTicks(chart) {
  const ctx = chart.ctx;
  ctx.save();
  ctx.strokeStyle = '#000';
  ctx.lineWidth = 3.5;
  panels.forEach(p => {
    const s = chart.scales[p.id];
    const n = Math.round((p.max - p.min) / p.minor);
    for (let k = 0; k <= n; k++) {
      const v = p.min + k * p.minor;
      if (p.ticks.some(t => Math.abs(t - v) < p.minor * 1e-3)) continue;
      const y = s.getPixelForValue(v);
      const dir = p.side === 'left' ? -1 : 1;
      ctx.beginPath(); ctx.moveTo(p.axisX, y); ctx.lineTo(p.axisX + dir * 12, y); ctx.stroke();
    }
  });
  const xs = chart.scales.x;
  for (let k = 0; k <= 48; k++) {
    const v = -70 + k * 0.5;
    if (k % 4 === 0) continue;
    const x = xs.getPixelForValue(v);
    ctx.beginPath(); ctx.moveTo(x, PLOT_B); ctx.lineTo(x, PLOT_B + 11); ctx.stroke();
  }
  ctx.restore();
}

function diamond(ctx, x, y, r) {
  ctx.beginPath(); ctx.moveTo(x, y - r); ctx.lineTo(x + r, y); ctx.lineTo(x, y + r); ctx.lineTo(x - r, y); ctx.closePath(); ctx.fill();
}

function legends(ctx) {
  ctx.save();
  // (e) legend
  ctx.strokeStyle = '#000'; ctx.lineWidth = 3;
  ctx.strokeRect(1423, 1682, 184, 146);
  drawRich(ctx, [['E. huxleyi', 'i']], 1514, 1717, {size: 30});
  ctx.fillStyle = '#ff6600';
  ctx.beginPath(); ctx.arc(1450, 1751, 8, 0, Math.PI * 2); ctx.fill();
  drawRich(ctx, [['Group A']], 1478, 1751, {size: 30, align: 'left', color: '#ff6600'});
  ctx.strokeStyle = '#1a9632'; ctx.lineWidth = 1.8;
  ctx.beginPath(); ctx.arc(1450, 1792, 7, 0, Math.PI * 2); ctx.stroke();
  drawRich(ctx, [['Group B']], 1478, 1792, {size: 30, align: 'left', color: '#16662c'});

  // PIC legend
  ctx.strokeStyle = '#000'; ctx.lineWidth = 3.5;
  ctx.strokeRect(1270, 2888, 602, 264);
  drawRich(ctx, [['PIC in the New Zealand transect (a, b, c)', 'b']], 1290, 2917, {size: 30, align: 'left'});
  const x0 = 1288, x1 = 1379, xm = (x0 + x1) / 2, tx = 1397;
  const rows = [2949, 2991, 3033, 3075, 3118];
  const names = ['PIC L2 average', 'PIC L3 monthy average (Jan \'05)', 'PIC L3 weekly average',
    'PIC L3 averaged weekly values', 'PIC coccolithophore'];
  const seg = (y, color, w, dash) => {
    ctx.save(); ctx.strokeStyle = color; ctx.lineWidth = w; ctx.setLineDash(dash || []);
    ctx.beginPath(); ctx.moveTo(x0, y); ctx.lineTo(x1, y); ctx.stroke(); ctx.restore();
  };
  seg(rows[0], '#5e2b27', 3);
  seg(rows[1], '#0b0b52', 3, [10, 7]);
  ctx.fillStyle = '#0b0b52'; diamond(ctx, xm, rows[1], 9);
  ctx.save(); ctx.strokeStyle = '#22c6ff'; ctx.lineWidth = 5;
  ctx.beginPath(); ctx.moveTo(xm - 8, rows[2] - 9); ctx.lineTo(xm + 8, rows[2] + 9);
  ctx.moveTo(xm + 8, rows[2] - 9); ctx.lineTo(xm - 8, rows[2] + 9); ctx.stroke(); ctx.restore();
  seg(rows[3], '#20bff0', 3, [8, 5]);
  seg(rows[4], '#ff0000', 5);
  ctx.fillStyle = '#ff0000'; ctx.beginPath(); ctx.arc(xm, rows[4], 6, 0, Math.PI * 2); ctx.fill();
  names.forEach((n, i) => drawRich(ctx, [[n]], tx, rows[i], {size: 30, align: 'left'}));
  ctx.restore();
}

const decorations = {
  id: 'decorations',
  afterDraw(chart) {
    const ctx = chart.ctx;
    minorTicks(chart);
    axisTitles.forEach(a => drawRich(ctx, a.parts, a.x, a.y, {size: 29, rot: -Math.PI / 2}));
    panelLabels.forEach(([t, x, y]) => drawRich(ctx, [[t, 'b']], x, y, {size: 36}));
    zoneLabels.forEach(z => drawRich(ctx, [[z.t, 'bi']], z.x, z.y,
      {size: 31, color: z.grey ? '#666666' : '#000', under: z.under}));
    legends(ctx);
  }
};

// ---------------- chart ----------------
Chart.defaults.font.family = FONT;
Chart.defaults.color = '#000';

new Chart(document.getElementById('fig'), {
  type: 'line',
  data: {datasets},
  options: {
    responsive: false,
    animation: false,
    events: [],
    layout: {padding: {left: PLOT_L, right: 1892 - PLOT_R, top: 20, bottom: 3173 - PLOT_B - X_AXIS_H}},
    scales,
    plugins: {legend: {display: false}, tooltip: {enabled: false}},
  },
  plugins: [placeAxes, errorBars, fronts, decorations],
});
</script>
</body>
</html>
